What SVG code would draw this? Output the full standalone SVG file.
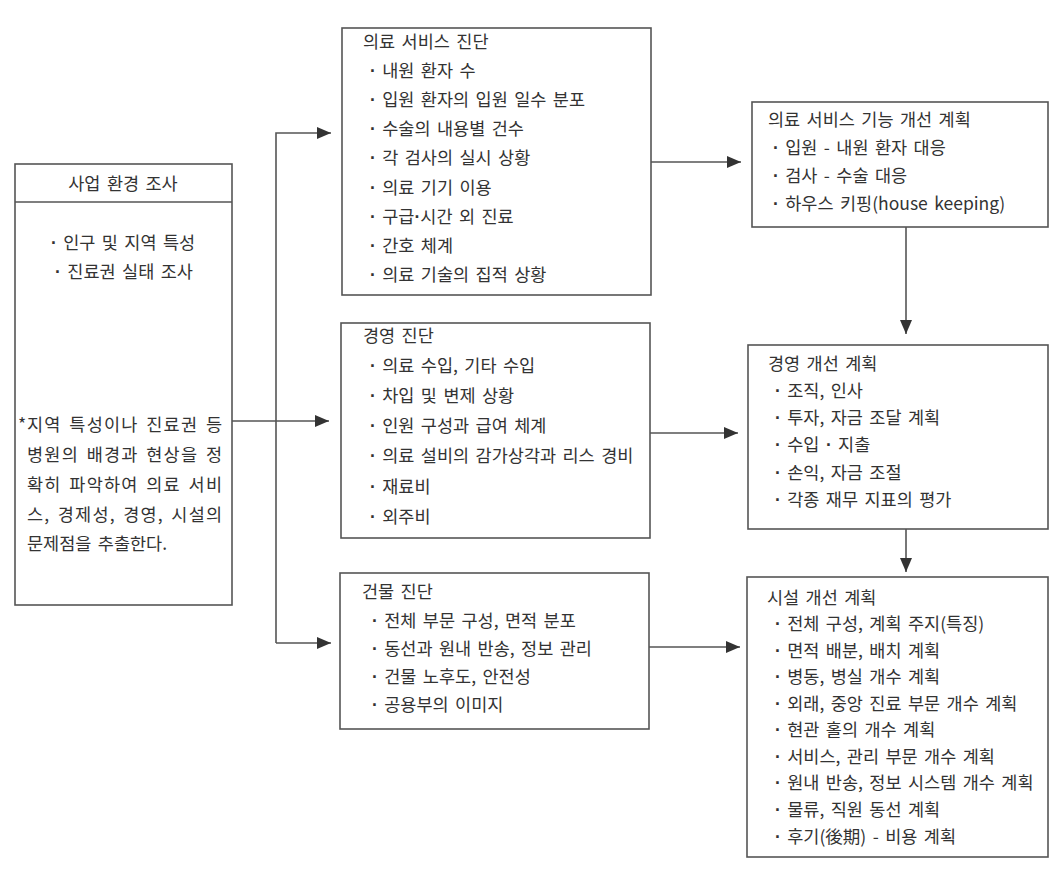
<svg xmlns="http://www.w3.org/2000/svg" width="1053" height="877" viewBox="0 0 1053 877">
<defs>
<style>
.box{fill:#fff;stroke:#555;stroke-width:1.6}
.ln{fill:none;stroke:#555;stroke-width:1.6}
text{font-family:"Noto Sans CJK KR","Noto Sans",sans-serif;font-size:17.5px;fill:#333;word-spacing:2.5px}
.d{font-family:"Liberation Sans",sans-serif;font-weight:bold}
.c{text-anchor:middle}
</style>
<marker id="ah" viewBox="0 0 14 12" refX="14" refY="6" markerWidth="14" markerHeight="12" markerUnits="userSpaceOnUse" orient="auto">
<path d="M0,0 L14,6 L0,12 Z" fill="#333"/>
</marker>
</defs>
<rect width="1053" height="877" fill="#fff"/>

<g id="survey">
<rect class="box" x="15" y="164" width="217" height="441"/>
<line class="ln" x1="15" y1="202" x2="232" y2="202"/>
<text class="c" x="123" y="190">사업 환경 조사</text>
<text class="c" x="123" y="249"><tspan class="d">·</tspan> 인구 및 지역 특성</text>
<text class="c" x="124" y="278"><tspan class="d">·</tspan> 진료권 실태 조사</text>
<text x="18" y="431">*</text>
<text x="27" y="431" textLength="195" lengthAdjust="spacing">지역 특성이나 진료권 등</text>
<text x="27" y="461" textLength="195" lengthAdjust="spacing">병원의 배경과 현상을 정</text>
<text x="27" y="491" textLength="195" lengthAdjust="spacing">확히 파악하여 의료 서비</text>
<text x="27" y="521" textLength="195" lengthAdjust="spacing">스, 경제성, 경영, 시설의</text>
<text x="27" y="550">문제점을 추출한다.</text>
</g>

<g id="medical-diagnosis">
<rect class="box" x="342" y="28" width="309" height="267"/>
<text x="363" y="48">의료 서비스 진단</text>
<text x="370" y="77"><tspan class="d">·</tspan> 내원 환자 수</text>
<text x="370" y="106"><tspan class="d">·</tspan> 입원 환자의 입원 일수 분포</text>
<text x="370" y="135"><tspan class="d">·</tspan> 수술의 내용별 건수</text>
<text x="370" y="164"><tspan class="d">·</tspan> 각 검사의 실시 상황</text>
<text x="370" y="194"><tspan class="d">·</tspan> 의료 기기 이용</text>
<text x="370" y="223"><tspan class="d">·</tspan> 구급<tspan class="d">·</tspan>시간 외 진료</text>
<text x="370" y="252"><tspan class="d">·</tspan> 간호 체계</text>
<text x="370" y="281"><tspan class="d">·</tspan> 의료 기술의 집적 상황</text>
</g>

<g id="management-diagnosis">
<rect class="box" x="341" y="323" width="309" height="215"/>
<text x="363" y="342">경영 진단</text>
<text x="370" y="372"><tspan class="d">·</tspan> 의료 수입, 기타 수입</text>
<text x="370" y="402"><tspan class="d">·</tspan> 차입 및 변제 상황</text>
<text x="370" y="432"><tspan class="d">·</tspan> 인원 구성과 급여 체계</text>
<text x="370" y="462"><tspan class="d">·</tspan> 의료 설비의 감가상각과 리스 경비</text>
<text x="370" y="493"><tspan class="d">·</tspan> 재료비</text>
<text x="370" y="523"><tspan class="d">·</tspan> 외주비</text>
</g>

<g id="building-diagnosis">
<rect class="box" x="340" y="573" width="309" height="156"/>
<text x="362" y="598">건물 진단</text>
<text x="372" y="627"><tspan class="d">·</tspan> 전체 부문 구성, 면적 분포</text>
<text x="372" y="655"><tspan class="d">·</tspan> 동선과 원내 반송, 정보 관리</text>
<text x="372" y="683"><tspan class="d">·</tspan> 건물 노후도, 안전성</text>
<text x="372" y="711"><tspan class="d">·</tspan> 공용부의 이미지</text>
</g>

<g id="medical-plan">
<rect class="box" x="752" y="102" width="296" height="125"/>
<text x="768" y="126">의료 서비스 기능 개선 계획</text>
<text x="773" y="154"><tspan class="d">·</tspan> 입원 - 내원 환자 대응</text>
<text x="773" y="182"><tspan class="d">·</tspan> 검사 - 수술 대응</text>
<text x="773" y="210"><tspan class="d">·</tspan> 하우스 키핑(house keeping)</text>
</g>

<g id="management-plan">
<rect class="box" x="748" y="345" width="300" height="184"/>
<text x="768" y="370">경영 개선 계획</text>
<text x="775" y="397"><tspan class="d">·</tspan> 조직, 인사</text>
<text x="775" y="424"><tspan class="d">·</tspan> 투자, 자금 조달 계획</text>
<text x="775" y="451"><tspan class="d">·</tspan> 수입 <tspan class="d">·</tspan> 지출</text>
<text x="775" y="479"><tspan class="d">·</tspan> 손익, 자금 조절</text>
<text x="775" y="506"><tspan class="d">·</tspan> 각종 재무 지표의 평가</text>
</g>

<g id="facility-plan">
<rect class="box" x="747" y="577" width="301" height="280"/>
<text x="767" y="604">시설 개선 계획</text>
<text x="775" y="630"><tspan class="d">·</tspan> 전체 구성, 계획 주지(특징)</text>
<text x="775" y="657"><tspan class="d">·</tspan> 면적 배분, 배치 계획</text>
<text x="775" y="683"><tspan class="d">·</tspan> 병동, 병실 개수 계획</text>
<text x="775" y="710"><tspan class="d">·</tspan> 외래, 중앙 진료 부문 개수 계획</text>
<text x="775" y="736"><tspan class="d">·</tspan> 현관 홀의 개수 계획</text>
<text x="775" y="763"><tspan class="d">·</tspan> 서비스, 관리 부문 개수 계획</text>
<text x="775" y="789"><tspan class="d">·</tspan> 원내 반송, 정보 시스템 개수 계획</text>
<text x="775" y="816"><tspan class="d">·</tspan> 물류, 직원 동선 계획</text>
<text x="775" y="843"><tspan class="d">·</tspan> 후기(後期) - 비용 계획</text>
</g>

<g id="connectors">
<polyline class="ln" points="276,643 276,133 331,133" marker-end="url(#ah)"/>
<line class="ln" x1="276" y1="643" x2="331" y2="643" marker-end="url(#ah)"/>
<line class="ln" x1="232" y1="421" x2="329" y2="421" marker-end="url(#ah)"/>
<line class="ln" x1="651" y1="162" x2="741" y2="162" marker-end="url(#ah)"/>
<line class="ln" x1="650" y1="433" x2="738" y2="433" marker-end="url(#ah)"/>
<line class="ln" x1="649" y1="647" x2="740" y2="647" marker-end="url(#ah)"/>
<line class="ln" x1="906" y1="227" x2="906" y2="334" marker-end="url(#ah)"/>
<line class="ln" x1="906" y1="529" x2="906" y2="572" marker-end="url(#ah)"/>
</g>
</svg>
